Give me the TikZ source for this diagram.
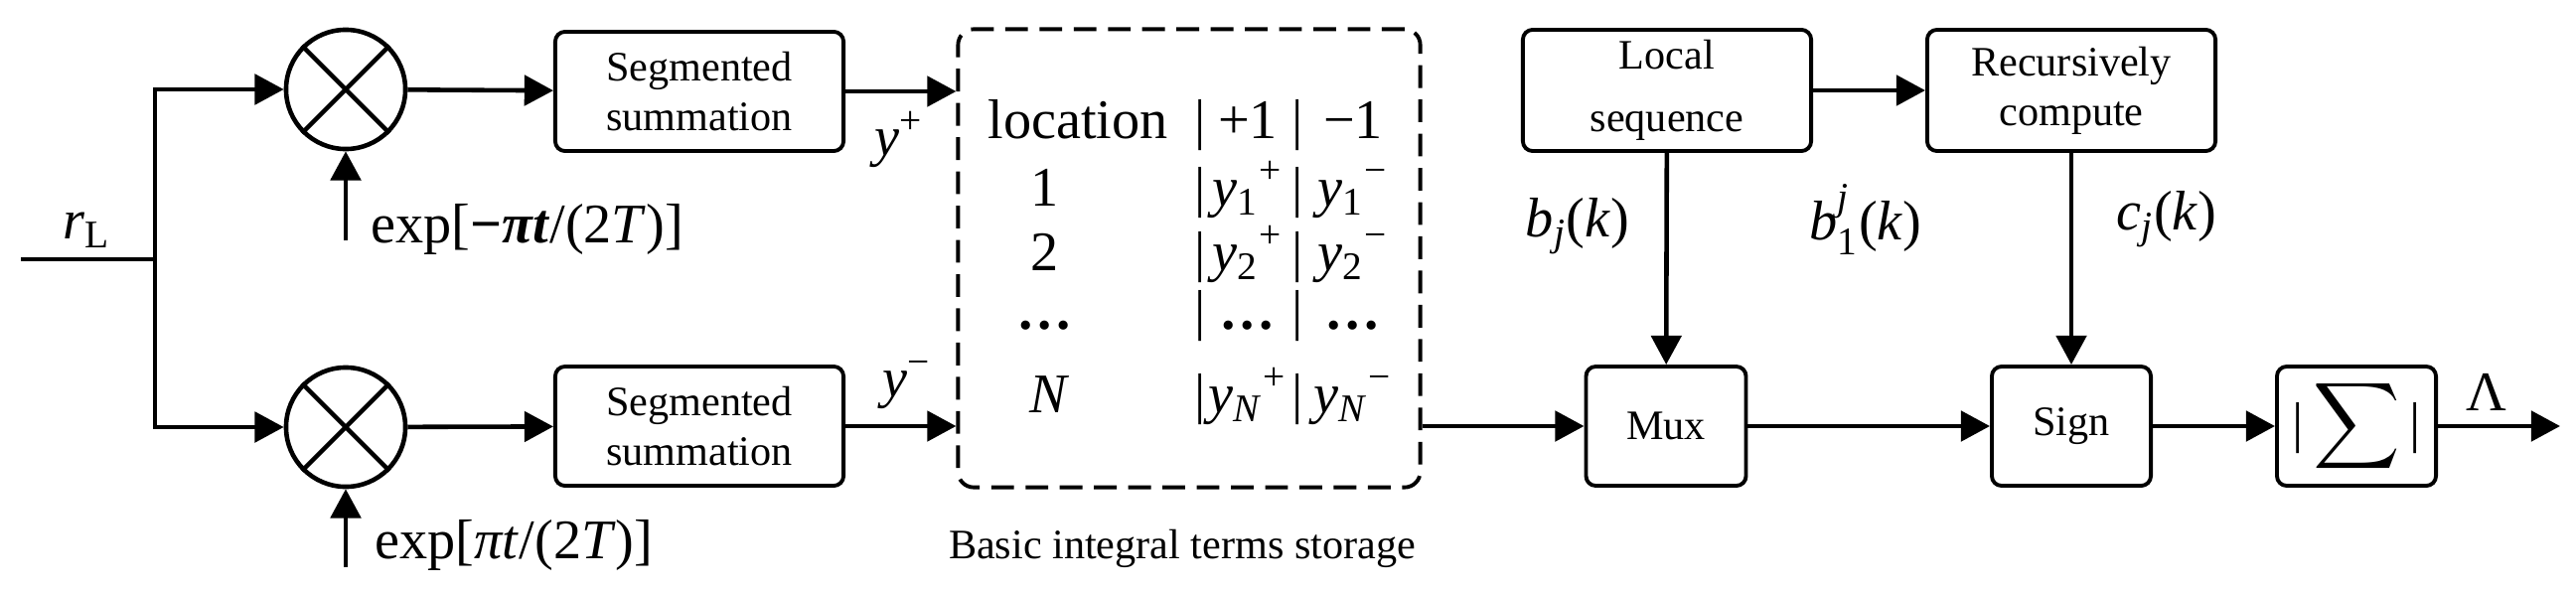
\documentclass[tikz,border=0pt]{standalone}
\usepackage{fontspec}
\setmainfont{Liberation Serif}
\usepackage{amsmath}
\usetikzlibrary{arrows.meta}

\begin{document}
\begin{tikzpicture}[x=0.01cm,y=-0.01cm,
    blk/.style={draw,line width=1.1pt,rounded corners=2.8pt,align=center,inner sep=0pt,
        minimum width=2.9cm,minimum height=1.2cm,font=\fontsize{12}{14.2}\selectfont},
    sig/.style={-{Triangle[length=8.3pt,width=8.6pt]},line width=1.3pt},
    lbl/.style={inner sep=0pt,font=\fontsize{16}{18}\selectfont},
    mult/.style={draw,circle,line width=1.3pt,minimum size=1.2cm,inner sep=0pt}]
    \useasboundingbox (0,0) rectangle (2593,597);
    % input and the two mixers
    \coordinate (in) at (21,261);
    \coordinate (split) at (156,261);
    \node[lbl] (rL) at (87,232) {\textit{r}\textsubscript{L}};
    \node[mult] (mulA) at (348,90) {};
    \node[mult] (mulB) at (348,430) {};
    \draw[line width=1.3pt] (mulA.north east) -- (mulA.south west) (mulA.north west) -- (mulA.south east);
    \draw[line width=1.3pt] (mulB.north east) -- (mulB.south west) (mulB.north west) -- (mulB.south east);
    \draw[line width=1.3pt] (in) -- (split);
    \draw[sig] (split) |- (mulA);
    \draw[sig] (split) |- (mulB);
    \coordinate (expA) at (348,242);
    \coordinate (expB) at (348,571);
    \draw[sig] (expA) -- (mulA);
    \draw[sig] (expB) -- (mulB);
    \node[lbl,anchor=base west] (expAlab) at (373,244) {exp[\textbf{−\textit{πt}}/(2\textit{T})]};
    \node[lbl,anchor=base west] (expBlab) at (377,562) {exp[\textit{πt}/(2\textit{T})]};
    % segmented sums
    \node[blk] (segA) at (704,92) {Segmented\\summation};
    \node[blk] (segB) at (704,429) {Segmented\\summation};
    \draw[sig] (mulA) -- (segA);
    \draw[sig] (mulB) -- (segB);
    % storage table
    \node[draw,line width=1.1pt,dash pattern=on 6.5pt off 3.3pt,rounded corners=4.5pt,
        minimum width=4.65cm,minimum height=4.61cm,inner sep=0pt] (store) at (1197,260) {};
    \draw[sig] (segA) -- (segA -| store.west);
    \draw[sig] (segB) -- (segB -| store.west);
    \node[lbl] (yplus) at (905,140) {\textit{y}\textsuperscript{+}};
    \node[lbl] (yminus) at (913,388) {\textit{y}\textsuperscript{−}};
    \node[font=\fontsize{12}{14}\selectfont,inner sep=0pt] (storecap) at (1190,552) {Basic integral terms storage};
    \foreach \r/\ya/\xa/\ca/\cb/\cc in {
        0/139/1085/location/{+1}/{−1},
        1/207/1052/1/{\textit{y}\textsubscript{1}\textsuperscript{+}}/{\textit{y}\textsubscript{1}\textsuperscript{−}},
        2/272/1052/2/{\textit{y}\textsubscript{2}\textsuperscript{+}}/{\textit{y}\textsubscript{2}\textsuperscript{−}},
        3/331/1052/{\textbf{…}}/{\textbf{…}}/{\textbf{…}},
        4/415/1057/{\textit{N}}/{\textit{y}\textsubscript{\textit{N}}\textsuperscript{+}}/{\textit{y}\textsubscript{\textit{N}}\textsuperscript{−}}}
    {
        \node[lbl,anchor=base] (cellA\r) at (\xa,\ya) {\ca};
        \node[lbl,anchor=base] (barA\r) at (1208,\ya) {|};
        \node[lbl,anchor=base] (cellB\r) at (1256,\ya) {\cb};
        \node[lbl,anchor=base] (barB\r) at (1306,\ya) {|};
        \node[lbl,anchor=base] (cellC\r) at (1362,\ya) {\cc};
    }
    % correlation with the local sequence
    \node[blk,minimum height=1.22cm] (loc) at (1678,91) {Local\\[3.7pt]sequence};
    \node[blk,minimum height=1.22cm] (rec) at (2085,91) {Recursively\\compute};
    \node[blk,minimum width=1.61cm] (mux) at (1677,429) {Mux};
    \node[blk,minimum width=1.6cm] (sign) at (2085,429) {Sign};
    \node[blk,minimum width=1.6cm,font=\fontsize{16}{18}\selectfont] (sum) at (2372,429) {|\,$\displaystyle\sum$\,|};
    \coordinate (out) at (2577,429);
    \draw[sig] (store.east |- mux) -- (mux);
    \draw[sig] (loc) -- (mux);
    \draw[sig] (loc) -- (rec);
    \draw[sig] (rec) -- (sign);
    \draw[sig] (mux) -- (sign);
    \draw[sig] (sign) -- (sum);
    \draw[sig] (sum) -- (out);
    \node[lbl] (bj) at (1588,228) {\textit{b}\textsubscript{\textit{j}}(\textit{k})};
    \node[lbl] (b1j) at (1878,221) {$\textit{b}_{\textrm{1}}^{\textit{j}}$(\textit{k})};
    \node[lbl] (cj) at (2181,221) {\textit{c}\textsubscript{\textit{j}}(\textit{k})};
    \node[lbl] (lam) at (2503,395) {Λ};
\end{tikzpicture}
\end{document}
